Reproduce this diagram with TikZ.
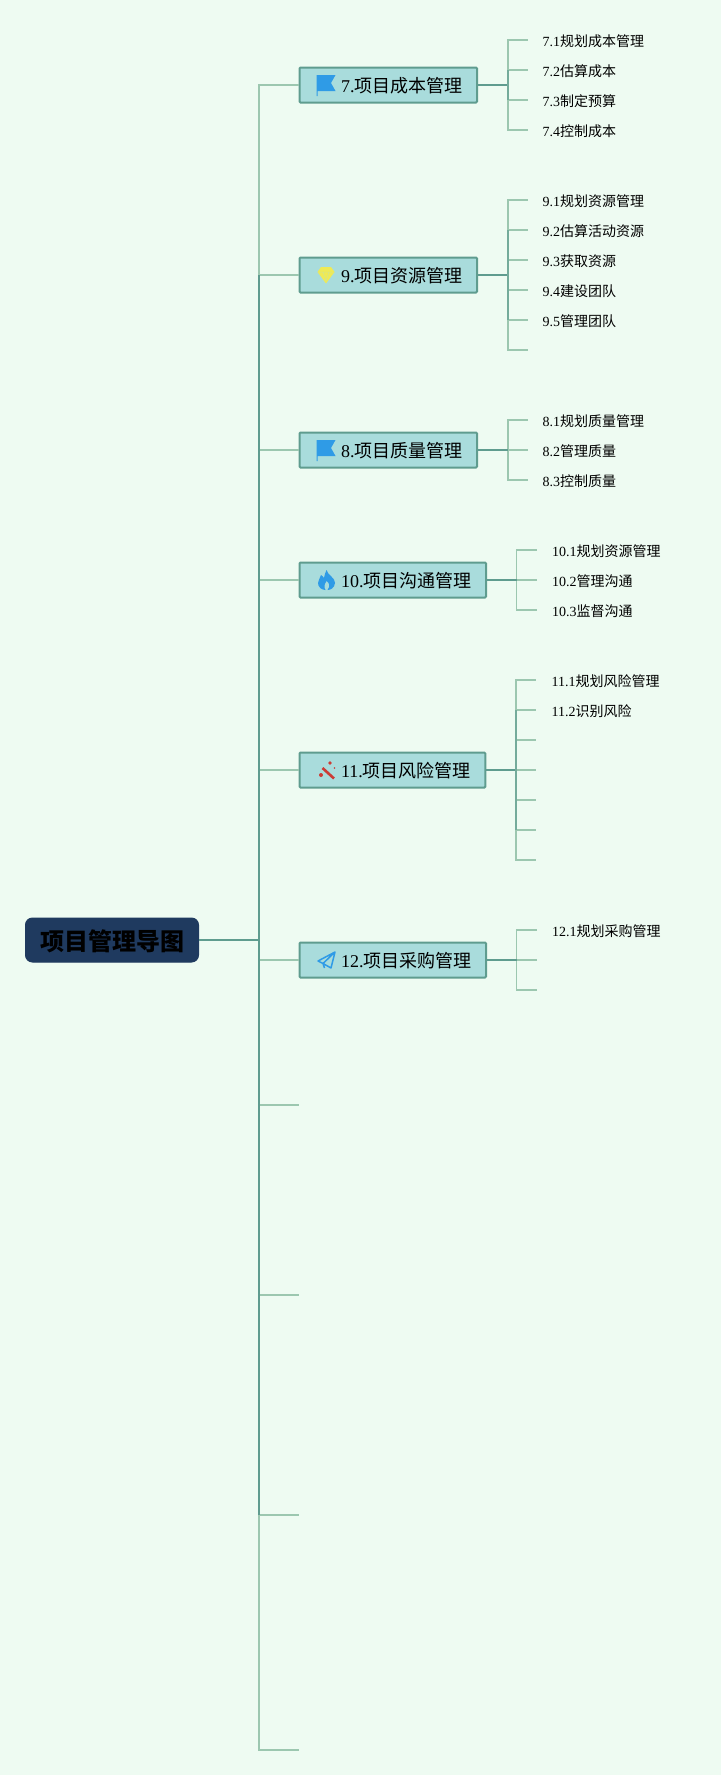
\documentclass[tikz,border=0pt]{standalone}
\usepackage{fontspec}
\setmainfont{Liberation Serif}
\newfontfamily\zhfont{Noto Sans CJK SC}
\usetikzlibrary{positioning}
\definecolor{paper}{HTML}{EEFBF2}
\definecolor{navy}{HTML}{1F3A5F}
\definecolor{boxfill}{HTML}{A9DCDC}
\definecolor{limbdark}{HTML}{5F9C8F}
\definecolor{limblight}{HTML}{9CC7B0}
\definecolor{iconblue}{HTML}{2F9BE6}
\definecolor{iconyellow}{HTML}{EFEA55}
\definecolor{iconred}{HTML}{CC3B35}
\newcommand{\zh}[1]{{\zhfont #1}}
\newcommand{\topic}[1]{\hspace*{27pt}#1}
\tikzset{
  flagicon/.pic={
    \fill[iconblue] (-9.5,10)--(9.5,10)--(5,2)--(9.5,-6)--(-8.5,-6)--(-8.5,-11)--(-9.5,-11)--cycle;
  },
  gemicon/.pic={
    \fill[iconyellow] (-5,8)--(5,8)--(8.5,3)--(0,-8.5)--(-8.5,3)--cycle;
    \draw[boxfill!40!iconyellow,line width=.5pt] (-8.5,3)--(8.5,3) (-3,3)--(0,-6)--(3,3);
  },
  flameicon/.pic={
    \fill[iconblue] (0,10) .. controls (1,5) and (9,2) .. (8.5,-3) .. controls (8,-8) and (4,-10) .. (1,-10)
      .. controls (4,-6) and (3,-3) .. (0,-1) .. controls (-2,-4) and (-3,-7) .. (-1,-10)
      .. controls (-5,-10) and (-8.5,-7) .. (-8.5,-3) .. controls (-8.5,0) and (-6,2) .. (-5.5,5)
      .. controls (-4,4) and (-3,3) .. (-2.5,2) .. controls (-2,5) and (-1,8) .. (0,10) -- cycle;
  },
  wandicon/.pic={
    \draw[iconred,line width=2.6pt] (-4,2)--(7.5,-8.5);
    \fill[iconred] (3.5,7) circle (1.8pt) (-5.5,-5) circle (2pt) (8,2) circle (.8pt);
  },
  planeicon/.pic={
    \draw[iconblue,line width=1.5pt,line join=round] (8.5,8)--(-8.5,-1)--(-3.5,-3.5)--(4.5,-8)--cycle (8.5,8)--(-3.5,-3.5)--(-2,-8);
  }
}
\begin{document}
\begin{tikzpicture}[
  x=1pt,y=1pt,
  rootbox/.style={draw=navy,fill=navy,rounded corners=7pt,minimum width=173pt,minimum height=44pt,line width=1pt,
    text height=24pt,text depth=3pt,font=\fontsize{24}{24}\selectfont\bfseries\zhfont},
  branch/.style={draw=limbdark,fill=boxfill,rounded corners=1pt,line width=2pt,minimum height=35pt,inner xsep=14.5pt,inner ysep=0pt,
    text height=18pt,text depth=2.8pt,font=\fontsize{18}{18}\selectfont},
  leaf/.style={inner xsep=15pt,inner ysep=0pt,minimum height=20pt,text height=14pt,text depth=.8pt,font=\fontsize{14}{14}\selectfont},
  limb/.style={draw=limblight,line width=1.8pt},
  midlimb/.style={draw=limbdark!65!limblight,line width=1.8pt},
  spine/.style={draw=limbdark,line width=2pt}
]
\useasboundingbox (0,0) rectangle (721,-1775);
\fill[paper] (0,0) rectangle (721,-1775);

\node[rootbox] (root) at (112,-940) {项目管理导图};
\coordinate[right=60pt of root.east] (hub);

\node[branch,anchor=west] (b7) at (298.5,-85) {\topic{7.\zh{项目成本管理}}};
\node[branch,below=190pt of b7.west,anchor=west] (b9) {\topic{9.\zh{项目资源管理}}};
\node[branch,below=175pt of b9.west,anchor=west] (b8) {\topic{8.\zh{项目质量管理}}};
\node[branch,below=130pt of b8.west,anchor=west] (b10) {\topic{10.\zh{项目沟通管理}}};
\node[branch,below=190pt of b10.west,anchor=west] (b11) {\topic{11.\zh{项目风险管理}}};
\node[branch,below=190pt of b11.west,anchor=west] (b12) {\topic{12.\zh{项目采购管理}}};
\coordinate[below=145pt of b12.west] (e1);
\coordinate[below=190pt of e1] (e2);
\coordinate[below=220pt of e2] (e3);
\coordinate[below=235pt of e3] (e4);

% icons
\pic at ([xshift=27.5pt]b7.west) {flagicon};
\pic at ([xshift=27.5pt]b9.west) {gemicon};
\pic at ([xshift=27.5pt]b8.west) {flagicon};
\pic at ([xshift=28pt]b10.west) {flameicon};
\pic at ([xshift=28pt]b11.west) {wandicon};
\pic at ([xshift=28pt]b12.west) {planeicon};

% leaves
\coordinate[right=30pt of b7.east] (j7);
\node[leaf,right=49.5pt of b7.east,yshift=45pt,anchor=west] (l71) {7.1\zh{规划成本管理}};
\node[leaf,below=30pt of l71.west,anchor=west] (l72) {7.2\zh{估算成本}};
\node[leaf,below=30pt of l72.west,anchor=west] (l73) {7.3\zh{制定预算}};
\node[leaf,below=30pt of l73.west,anchor=west] (l74) {7.4\zh{控制成本}};

\coordinate[right=30pt of b9.east] (j9);
\node[leaf,right=49.5pt of b9.east,yshift=75pt,anchor=west] (l91) {9.1\zh{规划资源管理}};
\node[leaf,below=30pt of l91.west,anchor=west] (l92) {9.2\zh{估算活动资源}};
\node[leaf,below=30pt of l92.west,anchor=west] (l93) {9.3\zh{获取资源}};
\node[leaf,below=30pt of l93.west,anchor=west] (l94) {9.4\zh{建设团队}};
\node[leaf,below=30pt of l94.west,anchor=west] (l95) {9.5\zh{管理团队}};
\coordinate[below=30pt of l95.west] (l96);

\coordinate[right=30pt of b8.east] (j8);
\node[leaf,right=49.5pt of b8.east,yshift=30pt,anchor=west] (l81) {8.1\zh{规划质量管理}};
\node[leaf,below=30pt of l81.west,anchor=west] (l82) {8.2\zh{管理质量}};
\node[leaf,below=30pt of l82.west,anchor=west] (l83) {8.3\zh{控制质量}};

\coordinate[right=29.5pt of b10.east] (j10);
\node[leaf,right=50pt of b10.east,yshift=30pt,anchor=west] (l101) {10.1\zh{规划资源管理}};
\node[leaf,below=30pt of l101.west,anchor=west] (l102) {10.2\zh{管理沟通}};
\node[leaf,below=30pt of l102.west,anchor=west] (l103) {10.3\zh{监督沟通}};

\coordinate[right=29.5pt of b11.east] (j11);
\node[leaf,right=50pt of b11.east,yshift=90pt,anchor=west] (l111) {11.1\zh{规划风险管理}};
\node[leaf,below=30pt of l111.west,anchor=west] (l112) {11.2\zh{识别风险}};
\coordinate[below=30pt of l112.west] (l113);
\coordinate[below=30pt of l113] (l114);
\coordinate[below=30pt of l114] (l115);
\coordinate[below=30pt of l115] (l116);
\coordinate[below=30pt of l116] (l117);

\coordinate[right=29.5pt of b12.east] (j12);
\node[leaf,right=50pt of b12.east,yshift=30pt,anchor=west] (l121) {12.1\zh{规划采购管理}};
\coordinate[below=30pt of l121.west] (l122);
\coordinate[below=30pt of l122] (l123);

% connectors, light ones first
\draw[limb] (hub) |- (b7);
\draw[limb] (hub) |- (b9);
\draw[limb] (hub) |- (b8);
\draw[limb] (hub) |- (b10);
\draw[limb] (hub) |- (b11);
\draw[limb] (hub) |- (b12);
\draw[limb] (hub) |- (e1);
\draw[limb] (hub) |- (e2);
\draw[limb] (hub) |- (e3);
\draw[limb] (hub) |- (e4);

\draw[limb] (j7) |- (l71);
\draw[limb] (j7) |- (l72);
\draw[limb] (j7) |- (l73);
\draw[limb] (j7) |- (l74);

\draw[limb] (j9) |- (l91);
\draw[limb] (j9) |- (l92);
\draw[limb] (j9) |- (l93);
\draw[limb] (j9) |- (l94);
\draw[limb] (j9) |- (l95);
\draw[limb] (j9) |- (l96);

\draw[limb] (j8) |- (l81);
\draw[limb] (j8) |- (l82);
\draw[limb] (j8) |- (l83);

\draw[limb] (j10) |- (l101);
\draw[limb] (j10) |- (l102);
\draw[limb] (j10) |- (l103);

\draw[limb] (j11) |- (l111);
\draw[limb] (j11) |- (l112);
\draw[limb] (j11) |- (l113);
\draw[limb] (j11) |- (l114);
\draw[limb] (j11) |- (l115);
\draw[limb] (j11) |- (l116);
\draw[limb] (j11) |- (l117);

\draw[limb] (j12) |- (l121);
\draw[limb] (j12) |- (l122);
\draw[limb] (j12) |- (l123);

% darker inner parts
\draw[spine] (root) -- (hub);
\draw[spine] (hub |- b9) -- (hub |- e3);
\draw[spine] (b7) -- (j7);
\draw[midlimb] (j7 |- l72) -- (j7 |- l73);
\draw[spine] (b9) -- (j9);
\draw[midlimb] (j9 |- l92) -- (j9 |- l95);
\draw[spine] (b8) -- (j8);
\draw[spine] (b10) -- (j10);
\draw[spine] (b11) -- (j11);
\draw[midlimb] (j11 |- l112) -- (j11 |- l116);
\draw[spine] (b12) -- (j12);
\end{tikzpicture}
\end{document}
